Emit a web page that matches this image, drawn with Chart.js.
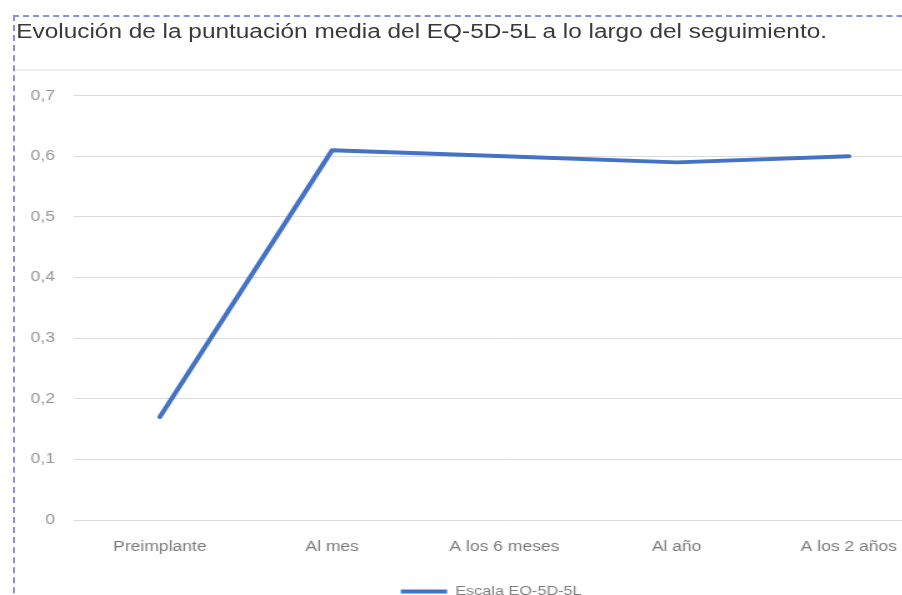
<!DOCTYPE html>
<html>
<head>
<meta charset="utf-8">
<script src="https://cdn.jsdelivr.net/npm/chart.js@4.4.1/dist/chart.umd.min.js"></script>
<style>
  html, body { margin: 0; padding: 0; background: #ffffff; overflow: hidden; width: 902px; height: 595px; }
  #frame { position: absolute; left: 13px; top: 15px; width: 1000px; height: 1000px;
           border-top: 2px dashed #8b90d8; border-left: 2px dashed #8b90d8; box-sizing: border-box; }
  #sep { position: absolute; left: 15px; top: 69px; width: 900px; height: 0; border-top: 2px solid #ececec; }
  #wrap { position: absolute; left: 0; top: 0; width: 748px; height: 608px;
          transform: scaleX(1.25); transform-origin: 0 0; }
  #title { position: absolute; left: 13px; top: 22px; white-space: nowrap;
           font-family: "Liberation Sans", Arial, sans-serif; font-size: 19.5px; line-height: 19.5px; color: #3a3a3a; }
  #chart { position: absolute; left: 0; top: 0; }
</style>
</head>
<body>
<div id="frame"></div>
<div id="sep"></div>
<div id="wrap">
  <div id="title">Evolución de la puntuación media del EQ-5D-5L a lo largo del seguimiento.</div>
  <canvas id="chart" width="748" height="608"></canvas>
</div>
<script>
const categories = ['Preimplante', 'Al mes', 'A los 6 meses', 'Al año', 'A los 2 años'];
const eq5dValues = [0.17, 0.61, 0.60, 0.59, 0.60];
const yTickLabels = ['0', '0,1', '0,2', '0,3', '0,4', '0,5', '0,6', '0,7'];
const seriesName = 'Escala EQ-5D-5L';

const FONT = '"Liberation Sans", Arial, sans-serif';

const legendShift = {
  id: 'legendShift',
  afterLayout(chart) {
    if (chart.legend) { chart.legend.left += 19; chart.legend.right += 19; }
  }
};

new Chart(document.getElementById('chart'), {
  type: 'line',
  data: {
    labels: categories,
    datasets: [{
      label: seriesName,
      data: eq5dValues,
      borderColor: '#4472C4',
      backgroundColor: '#4472C4',
      borderWidth: 4,
      borderCapStyle: 'round',
      borderJoinStyle: 'round',
      pointRadius: 0,
      pointHoverRadius: 0,
      tension: 0,
      fill: false
    }]
  },
  options: {
    responsive: false,
    animation: false,
    devicePixelRatio: 1,
    layout: { padding: { top: 95.7, left: 0, right: 0, bottom: 0 } },
    plugins: {
      title: { display: false },
      tooltip: { enabled: false },
      legend: {
        display: true,
        position: 'bottom',
        labels: {
          usePointStyle: true,
          pointStyle: 'line',
          pointStyleWidth: 37,
          padding: 10,
          color: '#7f7f7f',
          font: { family: FONT, size: 13 }
        }
      }
    },
    scales: {
      x: {
        offset: true,
        grid: { display: false, drawTicks: false },
        border: { display: false },
        ticks: { color: '#7a7a7a', padding: 19, maxRotation: 0, autoSkip: false,
                 font: { family: FONT, size: 14 } },
        afterFit(s) { s.height = 55; }
      },
      y: {
        min: 0, max: 0.7,
        grid: { color: '#dcdcdc', lineWidth: 1, drawTicks: false },
        border: { display: false },
        ticks: {
          stepSize: 0.1, padding: 15, color: '#959595',
          font: { family: FONT, size: 14 },
          callback: (v) => yTickLabels[Math.round(v * 10)]
        },
        afterFit(s) { s.width = 59; }
      }
    }
  },
  plugins: [legendShift]
});
</script>
</body>
</html>
